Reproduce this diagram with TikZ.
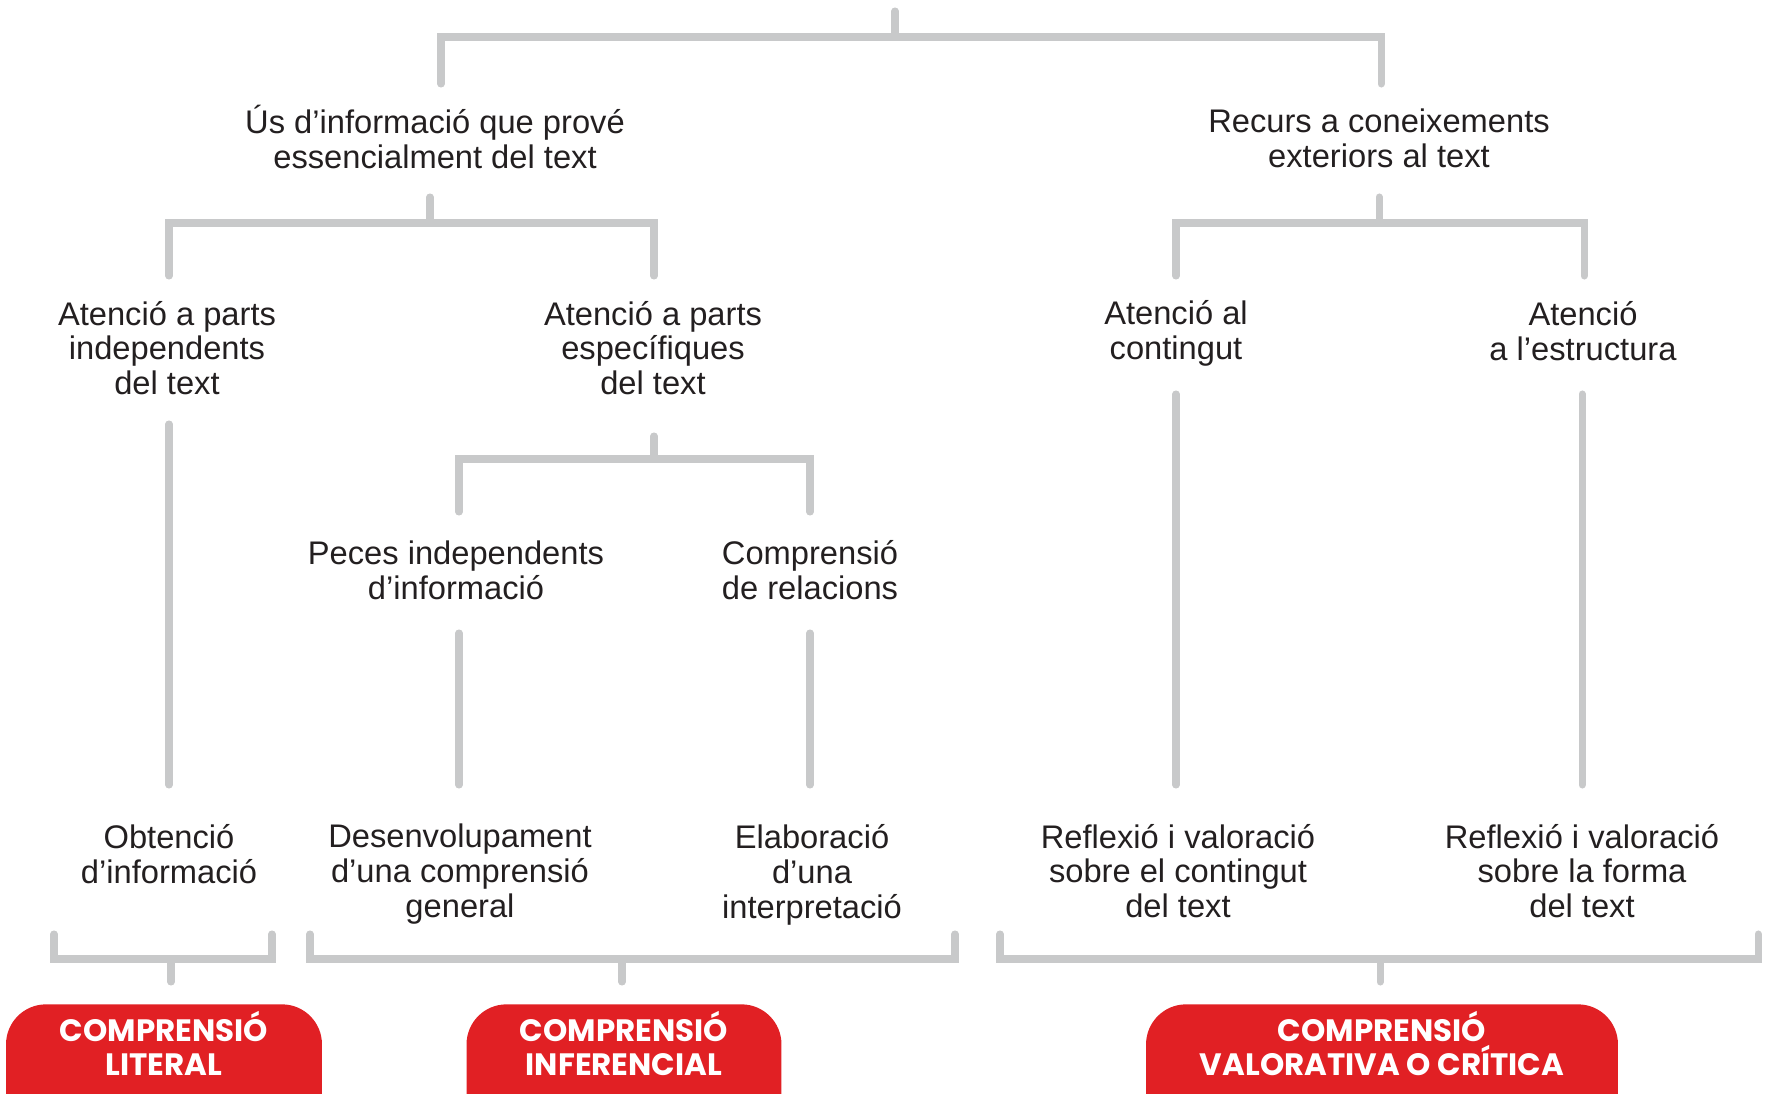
\documentclass[tikz,border=0pt]{standalone}
\usepackage{fontspec}
\setmainfont{Liberation Sans}
\newfontfamily\boxfont{Poppins}
\usepackage{tikz}
\definecolor{linegray}{RGB}{200,201,202}
\definecolor{boxred}{RGB}{225,32,36}
\definecolor{txtgray}{RGB}{35,31,32}

\begin{document}
\begin{tikzpicture}[x=0.02cm, y=-0.02cm,
  gline/.style={draw=linegray, line width=4pt, line cap=round},
  lbl/.style={align=center, text=txtgray, font=\fontsize{18.6}{19.8}\selectfont},
  redbox/.style={fill=boxred, rounded corners=0.8cm, anchor=north, align=center, text=white,
    font=\boxfont\bfseries\fontsize{17.6}{19.3}\selectfont, text height=32pt, text depth=40pt, inner ysep=8.5pt}]
 \useasboundingbox (0,0) rectangle (1765,1094);

 \draw (435,137) node[lbl] (us) {Ús d’informació que prové\\essencialment del text};
 \draw (1379,138) node[lbl] (recurs) {Recurs a coneixements\\exteriors al text};
 \draw (167,348) node[lbl] (indep) {Atenció a parts\\independents\\del text};
 \draw (653,348) node[lbl] (espec) {Atenció a parts\\específiques\\del text};
 \draw (1176,333) node[lbl] (contingut) {Atenció al\\contingut};
 \draw (1583,331) node[lbl] (estructura) {Atenció\\a l’estructura};
 \draw (456,570) node[lbl] (peces) {Peces independents\\d’informació};
 \draw (810,570) node[lbl] (relacions) {Comprensió\\de relacions};
 \draw (169,854) node[lbl] (obtencio) {Obtenció\\d’informació};
 \draw (460,874) node[lbl] (desenv) {Desenvolupament\\d’una comprensió\\general};
 \draw (812,875) node[lbl] (elabor) {Elaboració\\d’una\\interpretació};
 \draw (1178,871) node[lbl] (reflcont) {Reflexió i valoració\\sobre el contingut\\del text};
 \draw (1582,871) node[lbl] (reflforma) {Reflexió i valoració\\sobre la forma\\del text};

 \draw (164,1004) node[redbox, minimum width=6.32cm] (literal) {COMPRENSIÓ\\LITERAL};
 \draw (624,1004) node[redbox, minimum width=6.3cm] (inferencial) {COMPRENSIÓ\\INFERENCIAL};
 \draw (1382,1004) node[redbox, minimum width=9.44cm] (critica) {COMPRENSIÓ\\VALORATIVA O CRÍTICA};

 % ends of the gray lines
 \coordinate (rootTop) at (895,11);
 \coordinate (root) at (895,37);
 \coordinate (usIn) at (441,84);
 \coordinate (recIn) at (1381,84);
 \coordinate (usOut) at (430,197);
 \coordinate (usFork) at (430,223);
 \coordinate (indepIn) at (169,276);
 \coordinate (especIn) at (654,276);
 \coordinate (recOut) at (1379,197);
 \coordinate (recFork) at (1379,223);
 \coordinate (contIn) at (1176,276);
 \coordinate (estrIn) at (1584,276);
 \coordinate (indepOut) at (169,424);
 \coordinate (obtIn) at (169,785);
 \coordinate (especOut) at (654,436);
 \coordinate (especFork) at (654,459);
 \coordinate (pecesIn) at (459,512);
 \coordinate (relIn) at (810,512);
 \coordinate (contOut) at (1176,394);
 \coordinate (reflcIn) at (1176,785);
 \coordinate (estrOut) at (1582,394);
 \coordinate (reflfIn) at (1582,785);
 \coordinate (pecesOut) at (459,633);
 \coordinate (desIn) at (459,785);
 \coordinate (relOut) at (810,633);
 \coordinate (elabIn) at (810,785);
 \coordinate (litL) at (54,934);
 \coordinate (litFork) at (171,959);
 \coordinate (litR) at (272,934);
 \coordinate (litOut) at (171,982);
 \coordinate (infL) at (310,934);
 \coordinate (infFork) at (622,959);
 \coordinate (infR) at (955,934);
 \coordinate (infOut) at (622,982);
 \coordinate (valL) at (1000,934);
 \coordinate (valFork) at (1380,959);
 \coordinate (valR) at (1758,934);
 \coordinate (valOut) at (1380,982);

 \draw[gline] (rootTop) -- (root);
 \draw[gline] (usIn) |- (root) -| (recIn);
 \draw[gline] (usOut) -- (usFork);
 \draw[gline] (indepIn) |- (usFork) -| (especIn);
 \draw[gline] (recOut) -- (recFork);
 \draw[gline] (contIn) |- (recFork) -| (estrIn);
 \draw[gline] (indepOut) -- (obtIn);
 \draw[gline] (especOut) -- (especFork);
 \draw[gline] (pecesIn) |- (especFork) -| (relIn);
 \draw[gline] (contOut) -- (reflcIn);
 \draw[gline] (estrOut) -- (reflfIn);
 \draw[gline] (pecesOut) -- (desIn);
 \draw[gline] (relOut) -- (elabIn);
 \draw[gline] (litL) |- (litFork) -| (litR);
 \draw[gline] (litFork) -- (litOut);
 \draw[gline] (infL) |- (infFork) -| (infR);
 \draw[gline] (infFork) -- (infOut);
 \draw[gline] (valL) |- (valFork) -| (valR);
 \draw[gline] (valFork) -- (valOut);
\end{tikzpicture}
\end{document}
